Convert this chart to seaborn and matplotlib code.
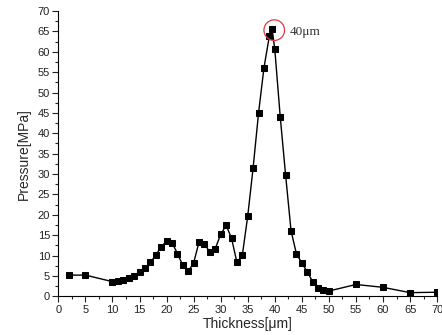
import numpy as np
import pandas as pd
import seaborn as sns
import matplotlib
matplotlib.use("Agg")
import matplotlib.pyplot as plt
from matplotlib.ticker import MultipleLocator

# values
thickness = [2, 5, 10, 11, 12, 13, 14, 15, 16, 17, 18, 19, 20, 21, 22, 23, 24, 25,
             26, 27, 28, 29, 30, 31, 32, 33, 34, 35, 36, 37, 38, 39, 39.5, 40,
             41, 42, 43, 44, 45, 46, 47, 48, 49, 50, 55, 60, 65, 70]
pressure = [5.2, 5.2, 3.6, 3.7, 4.1, 4.5, 5.1, 6.0, 6.9, 8.3, 10.1, 12.1, 13.6, 13.2,
            10.5, 7.6, 6.1, 8.2, 13.3, 12.9, 10.8, 11.7, 15.2, 17.4, 14.3, 8.3, 10.1,
            19.7, 31.6, 45.0, 56.1, 63.9, 65.6, 60.6, 44.1, 29.7, 16.1, 10.4, 8.2,
            6.0, 3.6, 2.1, 1.5, 1.3, 2.9, 2.2, 0.9, 1.0]
peak_x, peak_y = 39.9, 65.3
peak_label = "40\u03bcm"

df = pd.DataFrame({"Thickness": thickness, "Pressure": pressure})

sns.set_style("ticks")
plt.rcParams["font.family"] = ["Liberation Sans", "DejaVu Sans"]

fig = plt.figure(figsize=(4.42, 3.35), dpi=100)
ax = fig.add_axes([0.132, 0.1155, 0.857, 0.8516])

sns.lineplot(data=df, x="Thickness", y="Pressure", ax=ax, color="black",
             marker="s", markersize=5, markeredgecolor="black", linewidth=1.0,
             sort=False)

# red circle around the peak
ax.scatter([peak_x], [peak_y], s=220, facecolors="none", edgecolors="#e03a40",
           linewidths=0.9, zorder=5)
ax.text(42.8, 64.8, peak_label, ha="left", va="center", fontsize=9.5,
        family=["Liberation Serif", "DejaVu Serif"], color="#333333")

ax.set_xlim(0, 70)
ax.set_ylim(0, 70)
ax.xaxis.set_major_locator(MultipleLocator(5))
ax.xaxis.set_minor_locator(MultipleLocator(2.5))
ax.yaxis.set_major_locator(MultipleLocator(5))
ax.yaxis.set_minor_locator(MultipleLocator(2.5))
ax.tick_params(which="major", length=4, width=0.8, labelsize=8, pad=2, colors="#222222")
ax.tick_params(which="minor", length=2, width=0.8)
ax.set_xlabel("Thickness[\u03bcm]", fontsize=10, labelpad=1.5)
ax.set_ylabel("Pressure[MPa]", fontsize=10, labelpad=5)
sns.despine(ax=ax)
for s in ["left", "bottom"]:
    ax.spines[s].set_linewidth(0.8)
    ax.spines[s].set_color("black")

fig.savefig("out.png", dpi=100)
